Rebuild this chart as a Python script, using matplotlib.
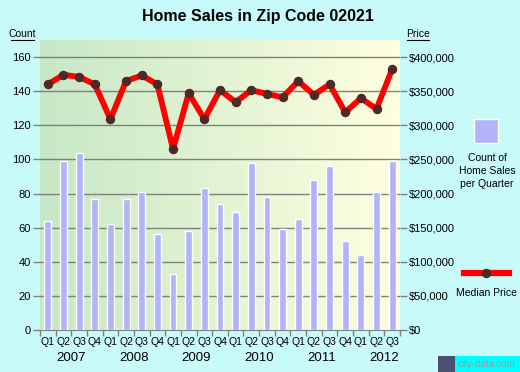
import numpy as np
import matplotlib.pyplot as plt
from matplotlib.lines import Line2D
from matplotlib.patches import Rectangle

plt.rcParams['font.family'] = ['Liberation Sans', 'DejaVu Sans']

#------------------------------------------------------data
quarters = ["Q1", "Q2", "Q3", "Q4"] * 5 + ["Q1", "Q2", "Q3"]
years = ["2007", "2008", "2009", "2010", "2011", "2012"]
counts = [64, 99, 104, 77, 62, 77, 81, 56, 33, 58, 83, 74,
          69, 98, 78, 59, 65, 88, 96, 52, 44, 81, 99]
prices = [360000, 374000, 371000, 360000, 309000, 365000, 373000, 360000,
          265000, 347000, 309000, 351500, 334000, 351500, 346000, 341000,
          364700, 344600, 360000, 319000, 339700, 324000, 382400]

bg = "#c8fafa"
grid_c = "#808080"

fig = plt.figure(figsize=(5.2, 3.72), dpi=100, facecolor=bg)
ax = fig.add_axes([40/520, 42/372, 360/520, 290/372])
n = len(counts)
x = np.arange(n) + 0.5

#------------------------------------------------------gradient background
grad = np.linspace(0, 1, 256)[None, :, None]
c0 = np.array([198, 232, 198]) / 255
c1 = np.array([255, 255, 224]) / 255
img = c0 + (c1 - c0) * grad
ax.imshow(img, extent=(0, n, 0, 170), aspect="auto", zorder=0)

#------------------------------------------------------grid and bars
for v in range(20, 170, 20):
    ax.axhline(v, color=grid_c, lw=1, zorder=1)
ax.bar(x, counts, width=0.44, color="#b3b3fa", edgecolor="white", lw=1, zorder=2)

ax.set_xlim(0, n)
ax.set_ylim(0, 170)
ax.set_yticks(range(0, 161, 20))
ax.set_xticks(np.arange(n + 1))
ax.set_xticklabels([])
ax.tick_params(axis="both", colors=grid_c, length=5, width=1, labelsize=8,
               labelcolor="black", direction="out", pad=1.5)
ax.tick_params(axis="x", length=4)
for s in ["top", "right", "left"]:
    ax.spines[s].set_visible(False)
ax.spines["bottom"].set_color(grid_c)

# quarter and year labels
for i, q in enumerate(quarters):
    ax.text(x[i], -4, q, ha="center", va="top", fontsize=7.5)
for j, yr in enumerate(years):
    ax.text(4 * j + 2, -13, yr, ha="center", va="top", fontsize=9.5)

#------------------------------------------------------price axis
ax2 = ax.twinx()
ax2.set_ylim(0, 425000)
ax2.set_yticks(range(0, 400001, 50000))
ax2.set_yticklabels(["$" + format(v, ",") for v in range(0, 400001, 50000)])
ax2.tick_params(axis="y", colors=grid_c, length=5, width=1, labelsize=8,
                labelcolor="black", pad=1.5)
for s in ax2.spines.values():
    s.set_visible(False)
ax2.patch.set_visible(False)
ax2.plot(x, prices, color="red", lw=4.2, zorder=3, solid_joinstyle="round",
         solid_capstyle="round")
ax2.plot(x, prices, "o", color="#502828", ms=5.8, zorder=4)

#------------------------------------------------------titles and labels
fig.text(258/520, 1 - 16/372, "Home Sales in Zip Code 02021", ha="center",
         va="center", fontsize=11.5, fontweight="bold")
fig.text(22/520, 1 - 34/372, "Count", ha="center", va="center", fontsize=7.5)
fig.lines.append(Line2D([11/520, 34/520], [1 - 39.5/372, 1 - 39.5/372],
                        color="black", lw=0.8, transform=fig.transFigure))
fig.text(418/520, 1 - 34/372, "Price", ha="center", va="center", fontsize=7.5)
fig.lines.append(Line2D([407/520, 429/520], [1 - 39.5/372, 1 - 39.5/372],
                        color="black", lw=0.8, transform=fig.transFigure))

#------------------------------------------------------legend
fig.patches.append(Rectangle((474/520, 1 - 143/372), 24/520, 24/372,
                             facecolor="#b3b3fa", edgecolor="white", lw=1,
                             transform=fig.transFigure))
fig.text(487/520, 1 - 171/372, "Count of\nHome Sales\nper Quarter", ha="center",
         va="center", fontsize=7.5, linespacing=1.35)
fig.lines.append(Line2D([464/520, 509/520], [1 - 273/372, 1 - 273/372],
                        color="red", lw=4.5, transform=fig.transFigure))
fig.lines.append(Line2D([486/520], [1 - 273/372], marker="o", color="#502828",
                        ms=5.8, transform=fig.transFigure))
fig.text(486/520, 1 - 293/372, "Median Price", ha="center", va="center", fontsize=7.5)

# watermark with small city icon
fig.patches.append(Rectangle((438/520, 0), 17/520, 16/372, facecolor="#4a5070",
                             edgecolor="none", transform=fig.transFigure))
fig.patches.append(Rectangle((455/520, 0), 65/520, 16/372, facecolor="#00ffff",
                             edgecolor="none", transform=fig.transFigure))
fig.text(487/520, 1 - 364/372, "city-data.com", ha="center", va="center",
         fontsize=7, color="#999999")

fig.savefig("out.png", dpi=100, facecolor=bg)
